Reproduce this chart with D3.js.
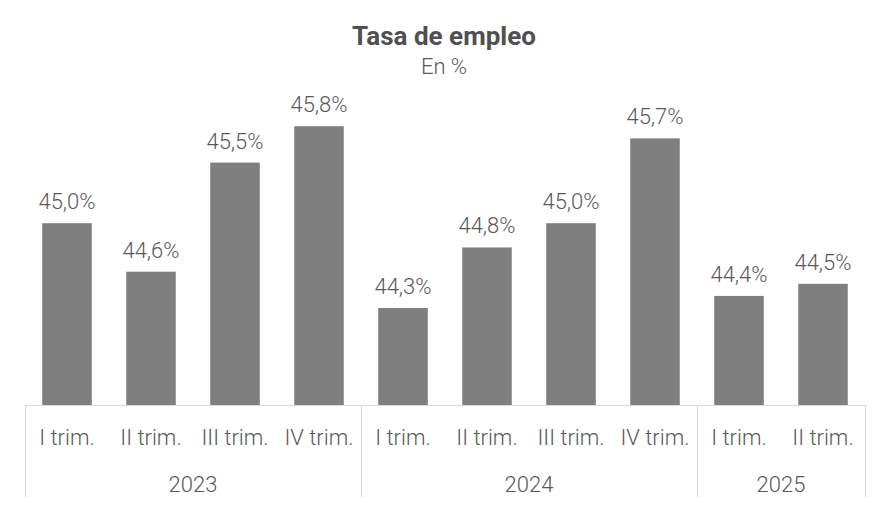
<!DOCTYPE html>
<html><head><meta charset="utf-8">
<script src="https://cdn.jsdelivr.net/npm/d3@7"></script>
<style>
body{margin:0;background:#fff;}
svg{display:block;font-family:Roboto,"Open Sans",sans-serif;}
</style></head>
<body><svg id="c" width="888" height="506"></svg>
<script>
const categories = ["I trim.","II trim.","III trim.","IV trim.","I trim.","II trim.","III trim.","IV trim.","I trim.","II trim."];
const years = ["2023","2023","2023","2023","2024","2024","2024","2024","2025","2025"];
const values = [45.0,44.6,45.5,45.8,44.3,44.8,45.0,45.7,44.4,44.5];
const groups = ["2023","2024","2025"];

const svg = d3.select("#c");
const left=25,right=865,base=405;
const ids = d3.range(values.length);
const x = d3.scaleBand().domain(ids).range([left,right]).paddingInner(0.41).paddingOuter(0.205);
const y = d3.scaleLinear().domain([43.5,46]).range([base,102]);
const txt="#595959", grid="#d9d9d9";

svg.append("text").attr("x",444).attr("y",45).attr("text-anchor","middle")
  .attr("font-size",26).attr("font-weight",700).attr("fill","#505050").text("Tasa de empleo");
svg.append("text").attr("x",444).attr("y",74).attr("text-anchor","middle")
  .attr("font-size",22).attr("font-weight",300).attr("fill",txt).text("En %");

svg.selectAll("rect.bar").data(ids).join("rect").attr("class","bar")
  .attr("x",i=>x(i)).attr("width",x.bandwidth())
  .attr("y",i=>y(values[i])).attr("height",i=>base-y(values[i]))
  .attr("fill","#7f7f7f");

svg.selectAll("text.val").data(ids).join("text").attr("class","val")
  .attr("x",i=>x(i)+x.bandwidth()/2).attr("y",i=>y(values[i])-14)
  .attr("text-anchor","middle").attr("font-size",22).attr("font-weight",300).attr("fill",txt)
  .text(i=>d3.format(".1f")(values[i]).replace(".",",")+"%");

svg.append("line").attr("x1",left).attr("x2",right).attr("y1",base+0.5).attr("y2",base+0.5)
  .attr("stroke",grid).attr("stroke-width",1);
const step = x.step();
const bounds=[];
groups.forEach(g=>{
  const idx = ids.filter(i=>years[i]===g);
  bounds.push({g, x0: left + d3.min(idx)*step, x1: left + (d3.max(idx)+1)*step});
});
const seps = [left, ...bounds.map(b=>b.x1)];
svg.selectAll("line.sep").data(seps).join("line").attr("class","sep")
  .attr("x1",d=>Math.round(d)+0.5).attr("x2",d=>Math.round(d)+0.5).attr("y1",base).attr("y2",497)
  .attr("stroke",grid).attr("stroke-width",1);

svg.selectAll("text.cat").data(ids).join("text").attr("class","cat")
  .attr("x",i=>x(i)+x.bandwidth()/2).attr("y",445)
  .attr("text-anchor","middle").attr("font-size",22).attr("font-weight",300).attr("fill",txt)
  .text(i=>categories[i]);

svg.selectAll("text.yr").data(bounds).join("text").attr("class","yr")
  .attr("x",b=>(b.x0+b.x1)/2).attr("y",492)
  .attr("text-anchor","middle").attr("font-size",22).attr("font-weight",300).attr("fill",txt)
  .text(b=>b.g);
</script></body></html>
